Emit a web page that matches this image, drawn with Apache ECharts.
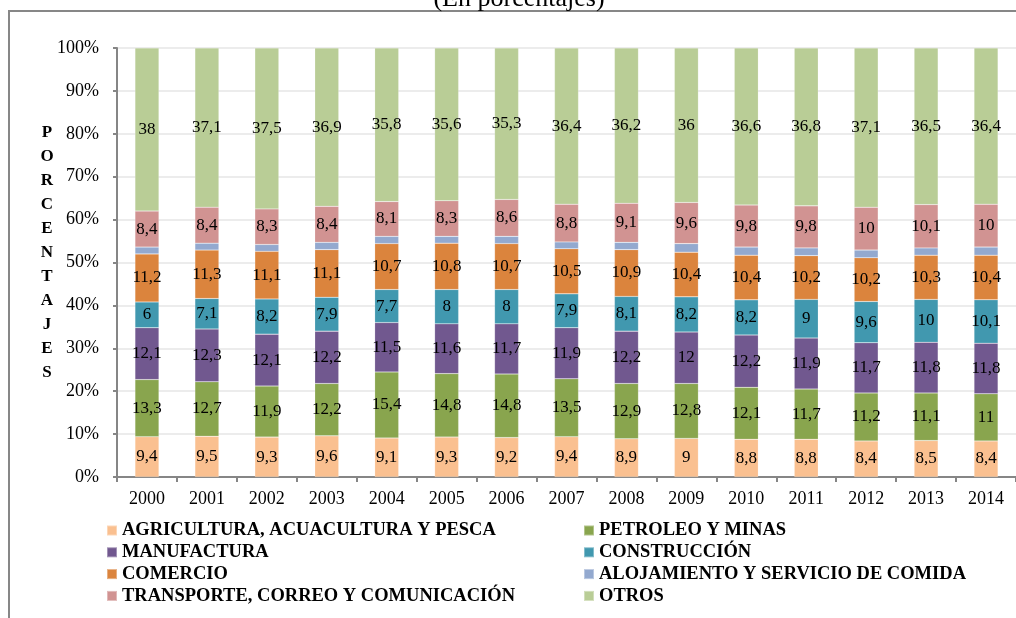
<!DOCTYPE html>
<html>
<head>
<meta charset="utf-8">
<style>
  html, body { margin: 0; padding: 0; background: #fff; }
  #chart { width: 1016px; height: 618px; }
</style>
<script src="https://cdn.jsdelivr.net/npm/echarts@6/dist/echarts.min.js"></script>
</head>
<body>
<div id="chart"></div>
<script>
// años
const years = ['2000', '2001', '2002', '2003', '2004', '2005', '2006', '2007',
  '2008', '2009', '2010', '2011', '2012', '2013', '2014']

// participación por sector (en porcentajes)
const agricultura = [9.4, 9.5, 9.3, 9.6, 9.1, 9.3, 9.2, 9.4, 8.9, 9, 8.8, 8.8, 8.4, 8.5, 8.4]
const petroleo = [13.3, 12.7, 11.9, 12.2, 15.4, 14.8, 14.8, 13.5, 12.9, 12.8, 12.1, 11.7, 11.2, 11.1, 11]
const manufactura = [12.1, 12.3, 12.1, 12.2, 11.5, 11.6, 11.7, 11.9, 12.2, 12, 12.2, 11.9, 11.7, 11.8, 11.8]
const construccion = [6, 7.1, 8.2, 7.9, 7.7, 8, 8, 7.9, 8.1, 8.2, 8.2, 9, 9.6, 10, 10.1]
const comercio = [11.2, 11.3, 11.1, 11.1, 10.7, 10.8, 10.7, 10.5, 10.9, 10.4, 10.4, 10.2, 10.2, 10.3, 10.4]
// alojamiento no tiene etiqueta en el gráfico: leído del alto del segmento
const alojamiento = [1.6, 1.6, 1.6, 1.7, 1.7, 1.6, 1.7, 1.6, 1.7, 2.0, 1.9, 1.8, 1.8, 1.7, 1.9]
const transporte = [8.4, 8.4, 8.3, 8.4, 8.1, 8.3, 8.6, 8.8, 9.1, 9.6, 9.8, 9.8, 10, 10.1, 10]
const otros = [38, 37.1, 37.5, 36.9, 35.8, 35.6, 35.3, 36.4, 36.2, 36, 36.6, 36.8, 37.1, 36.5, 36.4]

const yTitle = 'PORCENTAJES'

const serif = '"Liberation Serif", "DejaVu Serif", serif'

const sectores = [
  { name: 'AGRICULTURA, ACUACULTURA Y PESCA', data: agricultura, color: '#FAC090', label: true },
  { name: 'PETROLEO Y MINAS', data: petroleo, color: '#89A54E', label: true },
  { name: 'MANUFACTURA', data: manufactura, color: '#71588F', label: true },
  { name: 'CONSTRUCCIÓN', data: construccion, color: '#4198AF', label: true },
  { name: 'COMERCIO', data: comercio, color: '#DB843D', label: true },
  { name: 'ALOJAMIENTO Y SERVICIO DE COMIDA', data: alojamiento, color: '#93A9CF', label: false },
  { name: 'TRANSPORTE, CORREO Y COMUNICACIÓN', data: transporte, color: '#D19392', label: true },
  { name: 'OTROS', data: otros, color: '#B9CD96', label: true }
]

const chart = echarts.init(document.getElementById('chart'))

const seriesArrs = sectores.map((s) => {
  return {
    name: s.name,
    type: 'bar',
    stack: 'total',
    barWidth: 24,
    data: s.data,
    itemStyle: { color: s.color, borderColor: 'rgba(255,255,255,0.35)', borderWidth: 0.5 },
    label: {
      show: s.label,
      position: 'inside',
      color: '#000',
      fontFamily: serif,
      fontSize: 17,
      textBorderWidth: 0,
      formatter: (p) => String(p.value).replace('.', ',')
    },
    emphasis: { disabled: true }
  }
})

const legendText = {
  fontFamily: serif,
  fontSize: 18.5,
  fontWeight: 'bold',
  color: '#000'
}

// dos columnas de leyenda, como en el original
const legendCol = (left, names) => ({
  orient: 'vertical',
  left: left,
  top: 521,
  padding: 0,
  itemWidth: 10,
  itemHeight: 10,
  itemGap: 2.8,
  icon: 'rect',
  textStyle: legendText,
  data: names
})

const option = {
  animation: false,
  backgroundColor: '#fff',
  textStyle: { fontFamily: serif },
  graphic: [
    {
      type: 'rect',
      shape: { x: 9, y: 11, width: 1100, height: 700 },
      style: { fill: 'none', stroke: '#878787', lineWidth: 2 },
      silent: true
    },
    {
      type: 'text',
      style: {
        x: 519, y: 12,
        text: '(En porcentajes)',
        font: '26px ' + serif,
        fill: '#000',
        textAlign: 'center',
        textVerticalAlign: 'bottom'
      }
    },
    {
      type: 'text',
      style: {
        x: 47, y: 121,
        text: yTitle.split('').join('\n'),
        font: 'bold 17px ' + serif,
        lineHeight: 24,
        fill: '#000',
        textAlign: 'center',
        textVerticalAlign: 'top'
      }
    }
  ],
  legend: [
    legendCol(106, [sectores[0].name, sectores[2].name, sectores[4].name, sectores[6].name]),
    legendCol(583, [sectores[1].name, sectores[3].name, sectores[5].name, sectores[7].name])
  ],
  grid: {
    left: 117,
    top: 48,
    width: 906,
    height: 429,
    containLabel: false
  },
  xAxis: {
    type: 'category',
    data: years,
    axisLine: { lineStyle: { color: '#868686', width: 2 } },
    axisTick: { show: true, length: 5, lineStyle: { color: '#868686', width: 2 } },
    axisLabel: { color: '#000', fontFamily: serif, fontSize: 18, margin: 13 },
    splitLine: { show: false }
  },
  yAxis: {
    type: 'value',
    min: 0,
    max: 100,
    interval: 10,
    axisLine: { show: true, lineStyle: { color: '#868686', width: 2 } },
    axisTick: { show: true, length: 4, lineStyle: { color: '#868686', width: 2 } },
    axisLabel: { color: '#000', fontFamily: serif, fontSize: 18, margin: 18, formatter: '{value}%' },
    splitLine: { show: true, lineStyle: { color: '#ececec', width: 2 } }
  },
  series: seriesArrs
}

chart.setOption(option)
</script>
</body>
</html>
